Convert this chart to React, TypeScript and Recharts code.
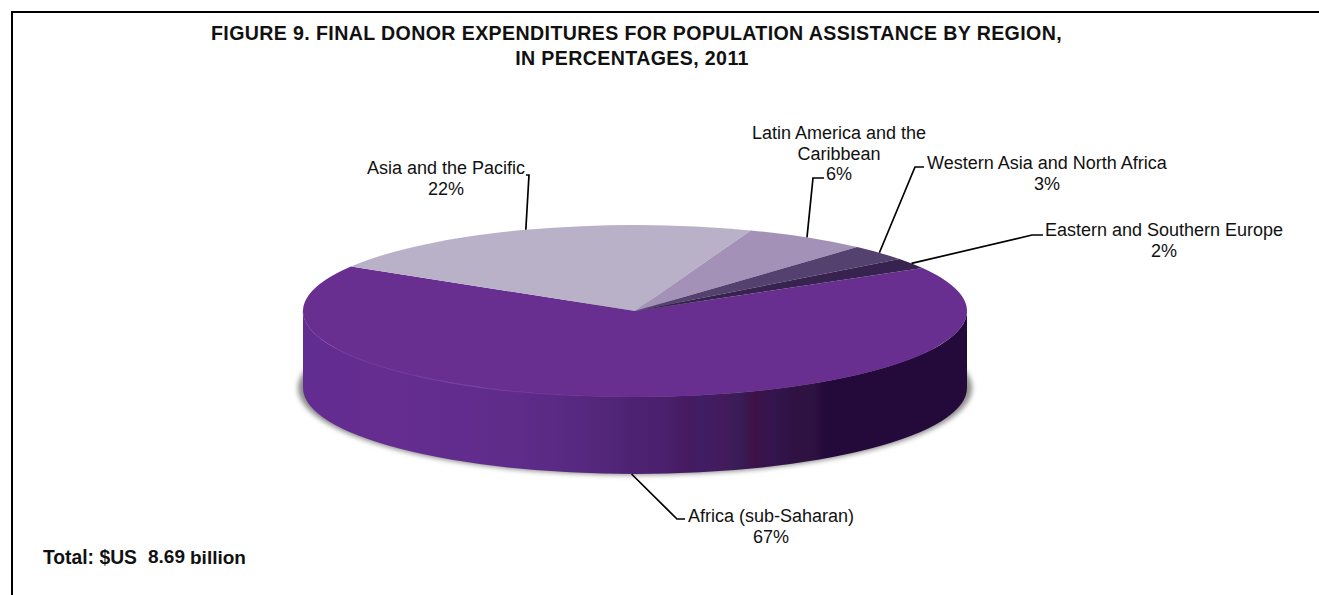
import React from 'react';
import { PieChart, Pie } from 'recharts';

const regions = [
  'Africa (sub-Saharan)',
  'Asia and the Pacific',
  'Latin America and the\nCaribbean',
  'Western Asia and North Africa',
  'Eastern and Southern Europe',
];
const shares = [67, 22, 6, 3, 2];
const sliceColors = ['#682f91', '#b9b1c8', '#a391b7', '#54416f', '#38224f'];
const titleLines = [
  'FIGURE 9. FINAL DONOR EXPENDITURES FOR POPULATION ASSISTANCE BY REGION,',
  'IN PERCENTAGES, 2011',
];
const titleCentres = [636.5, 632];

const chartData = regions.map((name, i) => ({ name, value: shares[i], fill: sliceColors[i] }));

// Pie geometry: the top face is squashed into an ellipse and sits on a wall of fixed depth
const CX = 635;
const CY = 311;
const RX = 332;
const RY = 86;
const DEPTH = 77;
const FONT = '"Liberation Sans", Arial, sans-serif';

// Banded shading round the front wall, left to right
const wallStops: [number, string][] = [
  [0, '#632c90'],
  [0.13, '#652d90'],
  [0.22, '#622c8e'],
  [0.31, '#5f2c8a'],
  [0.38, '#5a2a84'],
  [0.45, '#53267a'],
  [0.5, '#4d2272'],
  [0.55, '#4a1f6c'],
  [0.58, '#451a60'],
  [0.6, '#3f1e66'],
  [0.63, '#431b5c'],
  [0.66, '#381c56'],
  [0.68, '#3f1048'],
  [0.71, '#33154e'],
  [0.74, '#2f1242'],
  [0.77, '#2e1240'],
  [0.785, '#24093b'],
  [1, '#24093b'],
];

// Elbow and end of each leader line, then where its label sits
const leaders = [
  { elbow: [677, 519], end: [685, 519], labelX: 771, labelY: 522 },
  { elbow: [529, 175], end: [526, 175], labelX: 446, labelY: 174 },
  { elbow: [813, 178], end: [824, 178], labelX: 839, labelY: 139 },
  { elbow: [915, 167], end: [924, 167], labelX: 1047, labelY: 169 },
  { elbow: [1032, 235], end: [1043, 235], labelX: 1164, labelY: 236 },
];

const rad = (deg: number) => (deg * Math.PI) / 180;
const rimX = (a: number) => CX + RX * Math.cos(rad(a));
const rimY = (a: number) => CY - RY * Math.sin(rad(a));

const TopFace = (props: any) => {
  const { startAngle, endAngle, fill } = props;
  const large = Math.abs(startAngle - endAngle) > 180 ? 1 : 0;
  const d = `M${CX},${CY} L${rimX(startAngle)},${rimY(startAngle)} A${RX},${RY} 0 ${large} 1 ${rimX(endAngle)},${rimY(endAngle)} Z`;
  return <path d={d} fill={fill} stroke="none" />;
};

// Only the part of a slice facing the viewer (angles 0 to -180) shows a wall
const Wall = (props: any) => {
  const { startAngle, endAngle } = props;
  const hi = Math.min(startAngle, 0);
  const lo = Math.max(endAngle, -180);
  if (hi <= lo) return <g />;
  const d =
    `M${rimX(hi)},${rimY(hi)} A${RX},${RY} 0 0 1 ${rimX(lo)},${rimY(lo)} ` +
    `L${rimX(lo)},${rimY(lo) + DEPTH} A${RX},${RY} 0 0 0 ${rimX(hi)},${rimY(hi) + DEPTH} Z`;
  const rim = `M${rimX(-180)},${rimY(-180)} A${RX},${RY} 0 0 0 ${rimX(-95)},${rimY(-95)}`;
  return (
    <g>
      <ellipse cx={CX} cy={CY + DEPTH} rx={RX + 5} ry={RY + 1} fill="#8c8c8c" filter="url(#baseBlur)" />
      <path d={d} fill="url(#wallShade)" stroke="none" />
      <path d={rim} fill="none" stroke="url(#rimShade)" strokeWidth={1.2} />
    </g>
  );
};

const SliceLabel = (props: any) => {
  const { midAngle, index, name, value } = props;
  const { elbow, end, labelX, labelY } = leaders[index];
  const onFront = Math.sin(rad(midAngle)) < 0;
  const startX = rimX(midAngle);
  const startY = rimY(midAngle) + (onFront ? DEPTH : 0);
  const lines = [...String(name).split('\n'), `${value}%`];
  return (
    <g>
      <polyline
        points={`${startX},${startY} ${elbow[0]},${elbow[1]} ${end[0]},${end[1]}`}
        fill="none"
        stroke="#000"
        strokeWidth={1.7}
      />
      <text x={labelX} y={labelY} textAnchor="middle" fontFamily={FONT} fontSize={18} fill="#111">
        {lines.map((line, i) => (
          <tspan key={i} x={labelX} dy={i === 0 ? 0 : 20.5}>
            {line}
          </tspan>
        ))}
      </text>
    </g>
  );
};

export default function App() {
  return (
    <div style={{ position: 'absolute', left: 0, top: 0, width: 1319, height: 595, background: '#fff', overflow: 'hidden' }}>
      <div
        style={{
          position: 'absolute',
          left: 11,
          top: 11,
          right: 0,
          bottom: 0,
          borderTop: '2px solid #000',
          borderLeft: '2px solid #000',
        }}
      />
      <PieChart width={1319} height={595} margin={{ top: 0, right: 0, bottom: 0, left: 0 }} style={{ position: 'absolute', left: 0, top: 0 }}>
        <defs>
          <linearGradient id="wallShade" x1="0" y1="0" x2="1" y2="0">
            {wallStops.map(([offset, color]) => (
              <stop key={offset} offset={offset} stopColor={color} />
            ))}
          </linearGradient>
          <linearGradient id="rimShade" x1="0" y1="0" x2="1" y2="0">
            <stop offset={0} stopColor="#7a3fb0" stopOpacity={0.4} />
            <stop offset={0.6} stopColor="#7a3fb0" stopOpacity={1} />
            <stop offset={1} stopColor="#7a3fb0" stopOpacity={0} />
          </linearGradient>
          <filter id="baseBlur" x="-5%" y="-20%" width="110%" height="140%">
            <feGaussianBlur stdDeviation={2.5} />
          </filter>
        </defs>
        <Pie
          data={chartData}
          dataKey="value"
          cx={CX}
          cy={CY}
          outerRadius={RX}
          startAngle={30}
          endAngle={-330}
          paddingAngle={0}
          stroke="none"
          shape={Wall}
          isAnimationActive={false}
        />
        <Pie
          data={chartData}
          dataKey="value"
          nameKey="name"
          cx={CX}
          cy={CY}
          outerRadius={RX}
          startAngle={30}
          endAngle={-330}
          paddingAngle={0}
          stroke="none"
          shape={TopFace}
          label={SliceLabel}
          labelLine={false}
          isAnimationActive={false}
        />
        {titleLines.map((line, i) => (
          <text key={line} x={titleCentres[i]} y={40 + i * 25} textAnchor="middle" fontFamily={FONT} fontSize={19.6} letterSpacing={0.38} fontWeight="bold" fill="#111">
            {line}
          </text>
        ))}
        <text x={43} y={564} fontFamily={FONT} fontSize={19.3} fontWeight="bold" fill="#111">
          Total: $US
        </text>
        <text x={148} y={563} fontFamily={FONT} fontSize={19} fontWeight="bold" fill="#111">
          8.69
        </text>
        <text x={190} y={564} fontFamily={FONT} fontSize={19} fontWeight="bold" fill="#111">
          billion
        </text>
      </PieChart>
    </div>
  );
}
